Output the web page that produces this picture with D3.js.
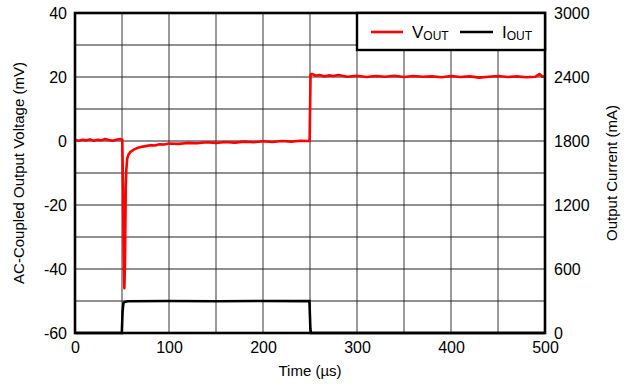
<!DOCTYPE html>
<html>
<head>
<meta charset="utf-8">
<script src="https://cdn.jsdelivr.net/npm/d3@7"></script>
<style>
  body { margin: 0; background: #fff; }
  text { font-family: "Liberation Sans", Arial, sans-serif; }
</style>
</head>
<body>
<svg id="chart" width="631" height="385"></svg>
<script>
// Vout trace (time in µs, voltage in mV)
var voutT = [0, 4, 8, 12, 16, 20, 24, 28, 32, 36, 40, 44, 48, 50.3,
  51, 51.8, 52.5, 53.2, 54, 54.6, 55.5, 57, 59, 62, 66, 70, 75, 80, 85, 90, 95, 100,
  110, 120, 130, 140, 150, 160, 170, 180, 190, 200, 210, 220, 230, 240, 249.6,
  250.6, 252, 256, 260, 265, 270, 275, 280, 290, 300, 310, 320, 330, 340, 350,
  360, 370, 380, 390, 400, 410, 420, 430, 440, 450, 460, 470, 480, 490, 494, 497, 500];
var voutMv = [0.3, 0.1, 0.4, 0.2, 0.5, 0.1, 0.4, 0.2, 0.6, 0.3, 0.1, 0.4, 0.6, 0.4,
  -14, -36, -46, -38, -14, -9, -5.5, -4.2, -3.4, -2.8, -2.2, -1.9, -1.6, -1.3, -1.4, -1.0, -1.1, -0.8,
  -0.9, -0.6, -0.7, -0.4, -0.6, -0.3, -0.5, -0.2, -0.4, -0.1, -0.3, 0.0, -0.2, 0.1, 0.0,
  20.8, 21.0, 20.4, 20.6, 20.2, 20.5, 20.3, 20.6, 20.1, 20.4, 20.0, 20.3, 20.1, 20.4, 20.0,
  20.3, 20.1, 20.2, 19.9, 20.3, 20.0, 20.2, 19.8, 20.1, 20.3, 20.0, 20.2, 19.9, 20.1, 20.9, 20.2, 20.1];

// Iout trace (time in µs, current in mA)
var ioutT = [0, 49.8, 50.6, 51.5, 53, 56, 100, 150, 200, 249.4, 250.4, 251, 500];
var ioutMa = [0, 0, 200, 280, 292, 297, 300, 298, 300, 299, 40, 0, 0];

var leftTicks = [-60, -40, -20, 0, 20, 40];
var rightTicks = [0, 600, 1200, 1800, 2400, 3000];
var timeTicks = [0, 100, 200, 300, 400, 500];

var svg = d3.select('#chart');
var L = 75, R = 545, T = 13, B = 333;

var scX = d3.scaleLinear().domain([0, 500]).range([L, R]);
var scY = d3.scaleLinear().domain([-60, 40]).range([B, T]);
var scI = d3.scaleLinear().domain([0, 3000]).range([B, T]);

// grid
svg.append('g').selectAll('line').data(d3.range(50, 500, 50)).enter().append('line')
    .attr('x1', d => scX(d)).attr('x2', d => scX(d))
    .attr('y1', T).attr('y2', B)
    .attr('stroke', '#7a7a7a').attr('stroke-width', 1.5);
svg.append('g').selectAll('line').data(d3.range(-50, 40, 10)).enter().append('line')
    .attr('x1', L).attr('x2', R)
    .attr('y1', d => scY(d)).attr('y2', d => scY(d))
    .attr('stroke', '#222').attr('stroke-width', 1.2);

// traces
var lineI = d3.line().x((d, i) => scX(ioutT[i])).y(d => scI(d));
svg.append('path').datum(ioutMa)
    .attr('d', lineI)
    .attr('fill', 'none').attr('stroke', '#000').attr('stroke-width', 2.6);

var lineV = d3.line().x((d, i) => scX(voutT[i])).y(d => scY(d));
svg.append('path').datum(voutMv)
    .attr('d', lineV)
    .attr('fill', 'none').attr('stroke', '#ff0000').attr('stroke-width', 2.6)
    .attr('stroke-linejoin', 'round');

// frame
svg.append('rect').attr('x', L).attr('y', T).attr('width', R - L).attr('height', B - T)
    .attr('fill', 'none').attr('stroke', '#000').attr('stroke-width', 2.6);

// axes
var fmt = d => String(d);
var axL = svg.append('g').attr('transform', 'translate(' + L + ',0)')
    .call(d3.axisLeft(scY).tickValues(leftTicks).tickFormat(fmt).tickSize(0).tickPadding(8));
var axR = svg.append('g').attr('transform', 'translate(' + R + ',0)')
    .call(d3.axisRight(scI).tickValues(rightTicks).tickFormat(fmt).tickSize(0).tickPadding(9));
var axB = svg.append('g').attr('transform', 'translate(0,' + B + ')')
    .call(d3.axisBottom(scX).tickValues(timeTicks).tickFormat(fmt).tickSize(0).tickPadding(9));
[axL, axR, axB].forEach(function (a) {
    a.select('.domain').remove();
    a.selectAll('text').attr('font-size', '16px').attr('fill', '#000')
        .style('font-family', '"Liberation Sans", Arial, sans-serif');
});

// axis titles
svg.append('text').attr('x', (L + R) / 2).attr('y', 376)
    .attr('text-anchor', 'middle').attr('font-size', '15px').text('Time (µs)');
svg.append('text').attr('transform', 'translate(24,' + ((T + B) / 2) + ') rotate(-90)')
    .attr('text-anchor', 'middle').attr('font-size', '15px').text('AC-Coupled Output Voltage (mV)');
svg.append('text').attr('transform', 'translate(617,' + ((T + B) / 2) + ') rotate(-90)')
    .attr('text-anchor', 'middle').attr('font-size', '15px').text('Output Current (mA)');

// legend
var lg = svg.append('g');
lg.append('rect').attr('x', 357).attr('y', T).attr('width', R - 357).attr('height', 37)
    .attr('fill', '#fff').attr('stroke', '#000').attr('stroke-width', 2.4);
lg.append('line').attr('x1', 371).attr('x2', 403).attr('y1', 32).attr('y2', 32)
    .attr('stroke', '#ff0000').attr('stroke-width', 2.6);
var tv = lg.append('text').attr('x', 412).attr('y', 38).attr('font-size', '17px');
tv.append('tspan').text('V');
tv.append('tspan').attr('font-size', '12px').attr('dy', 2).text('OUT');
lg.append('line').attr('x1', 460).attr('x2', 493).attr('y1', 32).attr('y2', 32)
    .attr('stroke', '#000').attr('stroke-width', 2.6);
var ti = lg.append('text').attr('x', 502).attr('y', 38).attr('font-size', '17px');
ti.append('tspan').text('I');
ti.append('tspan').attr('font-size', '12px').attr('dy', 2).text('OUT');
</script>
</body>
</html>
